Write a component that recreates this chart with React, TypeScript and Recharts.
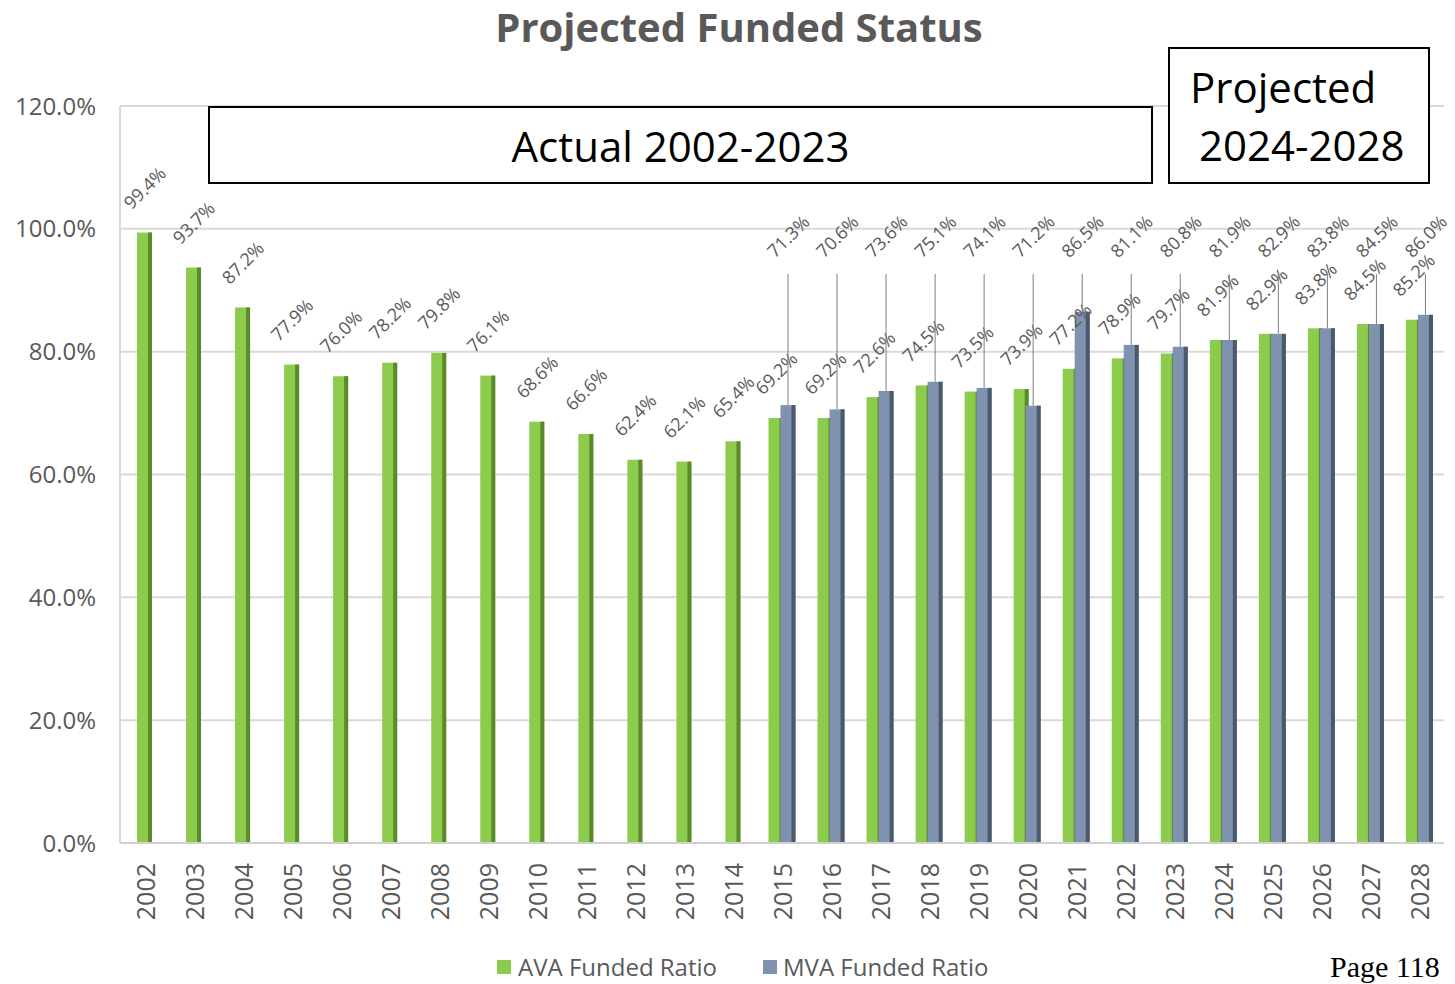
import React from 'react';
import { BarChart, Bar, XAxis, YAxis, CartesianGrid, LabelList } from 'recharts';

const years = [2002, 2003, 2004, 2005, 2006, 2007, 2008, 2009, 2010, 2011, 2012, 2013, 2014, 2015, 2016, 2017, 2018, 2019, 2020, 2021, 2022, 2023, 2024, 2025, 2026, 2027, 2028];
const avaRatio = [99.4, 93.7, 87.2, 77.9, 76.0, 78.2, 79.8, 76.1, 68.6, 66.6, 62.4, 62.1, 65.4, 69.2, 69.2, 72.6, 74.5, 73.5, 73.9, 77.2, 78.9, 79.7, 81.9, 82.9, 83.8, 84.5, 85.2];
const mvaRatio: (number | null)[] = [null, null, null, null, null, null, null, null, null, null, null, null, null, 71.3, 70.6, 73.6, 75.1, 74.1, 71.2, 86.5, 81.1, 80.8, 81.9, 82.9, 83.8, 84.5, 86.0];
const yTicks = [0, 20, 40, 60, 80, 100, 120];
const seriesNames = ['AVA Funded Ratio', 'MVA Funded Ratio'];
const titleText = 'Projected Funded Status';
const actualText = 'Actual 2002-2023';
const projectedLines = ['Projected', '2024-2028'];
const pageText = 'Page 118';

const data = years.map((y, i) => ({
  year: String(y),
  avaSolo: mvaRatio[i] == null ? avaRatio[i] : null,
  avaPair: mvaRatio[i] != null ? avaRatio[i] : null,
  mva: mvaRatio[i],
}));

const GREEN = '#8DCB4D';
const GREEN_D = '#5A8A2B';
const BLUE = '#7F93B0';
const BLUE_D = '#4B596D';
const GRAY_TEXT = '#595959';
const FONT = '"Open Sans", sans-serif';
const MVA_LABEL_Y = 236;

const shadedBar = (main: string, dark: string) => (props: any) => {
  const { x, y, width, height } = props;
  if (height == null || height <= 0 || x == null || isNaN(height)) return <g />;
  const s = Math.min(4, width * 0.3);
  return (
    <g>
      <rect x={x} y={y} width={width} height={height} fill={main} />
      <rect x={x + width - s} y={y} width={s} height={height} fill={dark} />
    </g>
  );
};

const fmt = (v: number) => v.toFixed(1) + '%';

const AvaLabel = (props: any) => {
  const { x, y, width, value } = props;
  if (value == null) return null;
  const cx = x + width / 2;
  const cy = y - 45;
  return (
    <text x={cx} y={cy} transform={`rotate(-45 ${cx} ${cy})`} textAnchor="middle" dominantBaseline="central"
      fontFamily={FONT} fontSize={18} fill={GRAY_TEXT}>
      {fmt(value)}
    </text>
  );
};

const MvaLabel = (props: any) => {
  const { x, y, width, value } = props;
  if (value == null) return null;
  const cx = x + width / 2;
  const cy = MVA_LABEL_Y;
  return (
    <g>
      <line x1={cx} y1={cy + 38} x2={cx} y2={y} stroke="#7F7F7F" strokeWidth={1} />
      <text x={cx} y={cy} transform={`rotate(-45 ${cx} ${cy})`} textAnchor="middle" dominantBaseline="central"
        fontFamily={FONT} fontSize={18} fill={GRAY_TEXT}>
        {fmt(value)}
      </text>
    </g>
  );
};

const YearTick = (props: any) => {
  const { x, y, payload } = props;
  const ty = y + 18;
  return (
    <text x={x} y={ty} transform={`rotate(-90 ${x} ${ty})`} textAnchor="end" dominantBaseline="central"
      fontFamily={FONT} fontSize={25} fill={GRAY_TEXT}>
      {payload.value}
    </text>
  );
};

export default function App() {
  return (
    <div style={{ position: 'absolute', left: 0, top: 0, width: 1455, height: 984, background: '#fff', overflow: 'hidden' }}>
      <BarChart width={1455} height={984} data={data} margin={{ top: 106, right: 11, left: 0, bottom: 0 }} barGap={-3}>
        <CartesianGrid vertical={false} stroke="#D9D9D9" strokeWidth={2} />
        <XAxis dataKey="year" height={141} interval={0} tickLine={false} tickSize={0}
          axisLine={{ stroke: '#D0D0D0', strokeWidth: 2 }} tick={<YearTick />} />
        <XAxis xAxisId="solo" dataKey="year" hide />
        <YAxis width={120} domain={[0, 120]} ticks={yTicks} tickFormatter={(v: number) => v.toFixed(1) + '%'}
          tickLine={false} tickSize={0} tickMargin={24} axisLine={{ stroke: '#D9D9D9', strokeWidth: 2 }}
          tick={{ fontFamily: FONT, fontSize: 24, fill: GRAY_TEXT }} />
        <Bar dataKey="avaSolo" xAxisId="solo" barSize={15} isAnimationActive={false} shape={shadedBar(GREEN, GREEN_D)}>
          <LabelList dataKey="avaSolo" content={<AvaLabel />} />
        </Bar>
        <Bar dataKey="avaPair" barSize={15} isAnimationActive={false} shape={shadedBar(GREEN, GREEN_D)}>
          <LabelList dataKey="avaPair" content={<AvaLabel />} />
        </Bar>
        <Bar dataKey="mva" barSize={15} isAnimationActive={false} shape={shadedBar(BLUE, BLUE_D)}>
          <LabelList dataKey="mva" content={<MvaLabel />} />
        </Bar>
      </BarChart>

      <div style={{ position: 'absolute', left: 0, width: 1478, top: -1, textAlign: 'center', fontFamily: FONT, fontWeight: 700, fontSize: 40, color: GRAY_TEXT }}>
        {titleText}
      </div>

      <div style={{ position: 'absolute', left: 208, top: 106, width: 945, height: 78, boxSizing: 'border-box', border: '2px solid #000', background: '#fff',
        display: 'flex', alignItems: 'center', justifyContent: 'center', fontFamily: FONT, fontSize: 42, color: '#000' }}>
        {actualText}
      </div>

      <div style={{ position: 'absolute', left: 1168, top: 47, width: 262, height: 137, boxSizing: 'border-box', border: '2px solid #000', background: '#fff',
        fontFamily: FONT, fontSize: 42, color: '#000' }}>
        <div style={{ position: 'absolute', left: 20, top: 10, lineHeight: '56px' }}>{projectedLines[0]}</div>
        <div style={{ position: 'absolute', left: 29, top: 68, lineHeight: '56px' }}>{projectedLines[1]}</div>
      </div>

      <div style={{ position: 'absolute', top: 953, left: 497, display: 'flex', alignItems: 'center', fontFamily: FONT, fontSize: 24, lineHeight: '28px', color: GRAY_TEXT }}>
        <span style={{ display: 'inline-block', width: 14, height: 14, background: GREEN, marginRight: 7 }} />
        <span>{seriesNames[0]}</span>
        <span style={{ display: 'inline-block', width: 14, height: 14, background: BLUE, marginLeft: 46, marginRight: 6 }} />
        <span>{seriesNames[1]}</span>
      </div>

      <div style={{ position: 'absolute', top: 952, left: 1330, fontFamily: '"Liberation Serif", serif', fontSize: 30, lineHeight: '30px', color: '#000' }}>
        {pageText}
      </div>
    </div>
  );
}
